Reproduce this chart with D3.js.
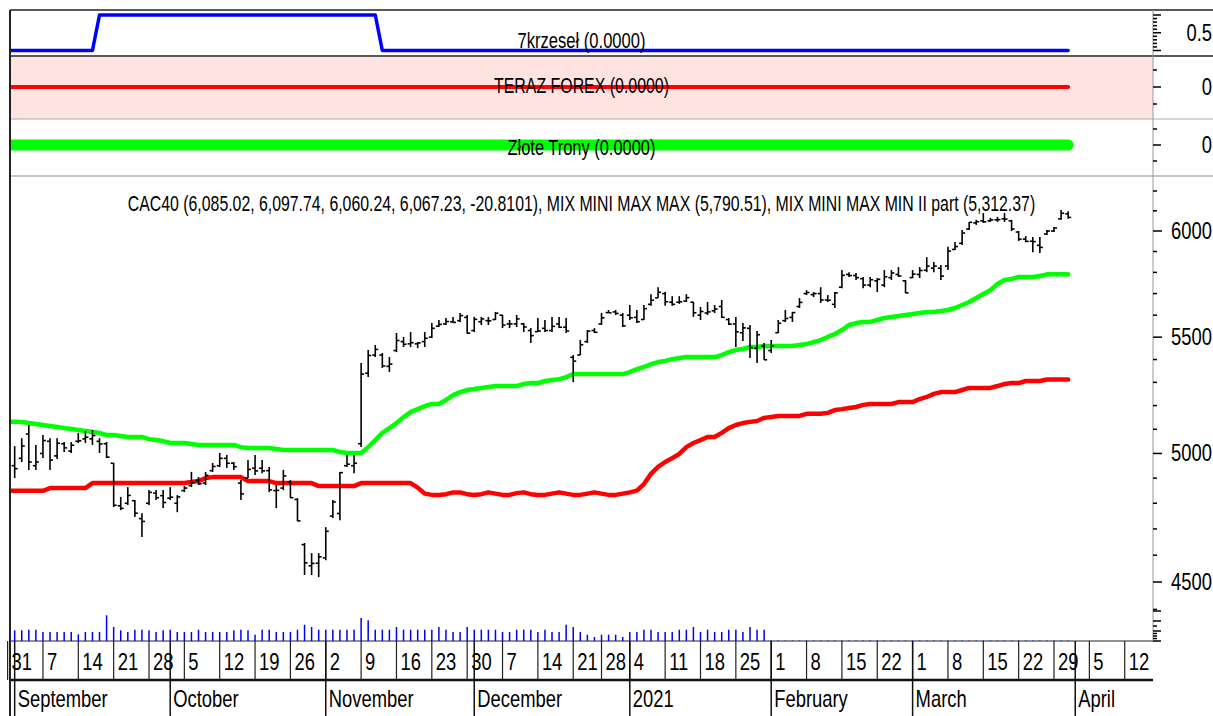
<!DOCTYPE html>
<html>
<head>
<meta charset="utf-8">
<script src="https://cdnjs.cloudflare.com/ajax/libs/d3/7.8.5/d3.min.js"></script>
<style>
	body { margin: 0; background: #fff; overflow: hidden; }
	svg { display: block; }
	text { font-family: "Liberation Sans", Arial, sans-serif; fill: #000; }
</style>
</head>
<body>
<svg id="chart" width="1213" height="716"></svg>
<script>
// trading calendar (future weekdays are shown on the axis too)
const firstDay = '2020-08-31';
const lastDay = '2021-04-16';
const holidays = ['2020-12-25', '2021-01-01'];

// CAC40 daily bars, 2020-08-31 .. 2021-03-31
const opens = [
	5010, 4950, 4980, 5080, 4950, 5000, 5050, 4990, 5040, 5010,
	5050, 5060, 5060, 5050, 5040, 4960, 4790, 4800, 4810, 4740,
	4800, 4840, 4830, 4820, 4800, 4850, 4870, 4890, 4880, 4930,
	4950, 4980, 4960, 4880, 4900, 4940, 4940, 4930, 4850, 4860,
	4885, 4815, 4640, 4560, 4570, 4590, 4750, 4760, 4950, 4950,
	5040, 5340, 5420, 5420, 5370, 5440, 5480, 5470, 5470, 5480,
	5500, 5550, 5560, 5570, 5575, 5590, 5530, 5570, 5575, 5580,
	5600, 5560, 5560, 5560, 5530, 5525, 5540, 5530, 5560, 5545,
	5410, 5420, 5480, 5530, 5560, 5612, 5615, 5600, 5600, 5590,
	5580, 5650, 5680, 5700, 5660, 5660, 5665, 5660, 5600, 5610,
	5620, 5640, 5580, 5560, 5520, 5540, 5450, 5460, 5440, 5520,
	5575, 5590, 5640, 5700, 5695, 5700, 5670, 5650, 5730, 5790,
	5785, 5770, 5740, 5760, 5740, 5775, 5790, 5760, 5775, 5790,
	5810, 5820, 5820, 5830, 5910, 5940, 6010, 6040, 6050, 6050,
	6055, 6060, 6050, 5995, 5960, 5950, 5930, 5985, 6000, 6060,
	6085.02
];
const highs = [
	5020, 5030, 5063, 5118, 5035, 5076, 5063, 5063, 5047, 5047,
	5085, 5093, 5097, 5063, 5047, 4961, 4825, 4864, 4813, 4761,
	4852, 4852, 4852, 4864, 4832, 4868, 4925, 4904, 4925, 4961,
	5002, 4994, 4965, 4892, 4973, 4994, 4973, 4945, 4872, 4933,
	4892, 4820, 4646, 4608, 4608, 4707, 4813, 4925, 4994, 4994,
	5385, 5442, 5465, 5429, 5411, 5519, 5501, 5523, 5478, 5523,
	5564, 5578, 5587, 5592, 5610, 5601, 5592, 5592, 5592, 5615,
	5601, 5578, 5601, 5564, 5541, 5587, 5578, 5592, 5592, 5587,
	5420, 5487, 5532, 5541, 5610, 5624, 5624, 5610, 5647, 5624,
	5647, 5697, 5730, 5707, 5688, 5688, 5697, 5661, 5638, 5661,
	5647, 5670, 5587, 5592, 5564, 5555, 5528, 5474, 5487, 5578,
	5624, 5615, 5679, 5716, 5707, 5730, 5693, 5707, 5811, 5801,
	5797, 5778, 5778, 5773, 5811, 5811, 5825, 5764, 5811, 5825,
	5873, 5849, 5835, 5923, 5946, 6005, 6045, 6055, 6089, 6065,
	6070, 6089, 6055, 6000, 5975, 5970, 5970, 6005, 6020, 6104,
	6097.74
];
const lows = [
	4930, 4900, 4965, 4933, 4933, 4981, 4933, 4977, 5006, 5002,
	5043, 5043, 5035, 5002, 4981, 4785, 4773, 4793, 4746, 4669,
	4793, 4813, 4781, 4813, 4765, 4844, 4864, 4872, 4872, 4925,
	4945, 4941, 4933, 4813, 4900, 4912, 4920, 4844, 4781, 4852,
	4820, 4730, 4526, 4526, 4518, 4581, 4742, 4734, 4945, 4920,
	5026, 5323, 5411, 5363, 5345, 5433, 5456, 5456, 5451, 5456,
	5496, 5546, 5555, 5564, 5569, 5515, 5523, 5555, 5555, 5578,
	5541, 5541, 5546, 5523, 5474, 5523, 5523, 5523, 5541, 5519,
	5301, 5420, 5474, 5519, 5555, 5610, 5601, 5546, 5578, 5564,
	5578, 5643, 5679, 5643, 5643, 5652, 5661, 5592, 5578, 5601,
	5610, 5587, 5555, 5456, 5483, 5407, 5385, 5398, 5429, 5519,
	5569, 5569, 5633, 5693, 5684, 5656, 5661, 5633, 5725, 5778,
	5764, 5725, 5730, 5707, 5730, 5764, 5778, 5702, 5773, 5773,
	5801, 5801, 5764, 5811, 5907, 5931, 6005, 6030, 6040, 6045,
	6045, 6045, 6000, 5951, 5946, 5897, 5893, 5980, 5995, 6055,
	6060.24
];
const closes = [
	4947, 4938, 5031, 4965, 4965, 5053, 4973, 5042, 5023, 5034,
	5052, 5067, 5074, 5039, 4985, 4792, 4780, 4831, 4761, 4729,
	4843, 4822, 4803, 4824, 4825, 4860, 4882, 4877, 4911, 4947,
	4980, 4960, 4946, 4837, 4935, 4929, 4929, 4853, 4851, 4909,
	4822, 4731, 4571, 4569, 4594, 4691, 4805, 4922, 4956, 4960,
	5336, 5418, 5445, 5372, 5380, 5485, 5468, 5475, 5474, 5495,
	5540, 5558, 5571, 5567, 5598, 5518, 5581, 5583, 5574, 5609,
	5555, 5560, 5583, 5546, 5507, 5528, 5530, 5549, 5545, 5528,
	5393, 5466, 5527, 5522, 5588, 5611, 5608, 5551, 5588, 5570,
	5630, 5669, 5706, 5662, 5650, 5662, 5681, 5611, 5617, 5615,
	5628, 5590, 5559, 5524, 5542, 5453, 5511, 5399, 5461, 5563,
	5585, 5612, 5659, 5705, 5700, 5670, 5669, 5703, 5786, 5785,
	5775, 5740, 5765, 5767, 5779, 5797, 5783, 5703, 5792, 5809,
	5830, 5830, 5782, 5902, 5924, 5990, 6043, 6046, 6045, 6055,
	6056, 6059, 6010, 5960, 5949, 5948, 5920, 6000, 6015, 6088,
	6067.23
];
const volumes = [
	107, 107, 107, 113, 113, 90, 90, 90, 90, 90,
	67, 90, 90, 90, 257, 140, 107, 90, 113, 113,
	107, 90, 107, 113, 90, 90, 90, 113, 90, 90,
	90, 90, 107, 113, 107, 63, 113, 113, 90, 90,
	90, 113, 163, 140, 113, 113, 113, 113, 113, 113,
	230, 207, 113, 113, 113, 140, 113, 113, 113, 113,
	113, 140, 113, 90, 90, 140, 113, 113, 113, 113,
	90, 90, 113, 113, 113, 90, 113, 90, 90, 163,
	140, 90, 63, 40, 63, 63, 63, 40, 90, 90,
	113, 113, 90, 90, 90, 113, 113, 140, 90, 113,
	90, 90, 113, 113, 90, 140, 113, 113, 5, 5,
	5, 5, 5, 5, 5, 5, 5, 5, 5, 5,
	5, 5, 5, 5, 5, 5, 5, 5, 5, 5,
	5, 5, 5, 5, 5, 5, 5, 5, 5, 5,
	5, 5, 5, 5, 5, 5, 5, 5, 5, 5,
	5
];
// MIX MINI MAX MAX
const mixMax = [
	5132, 5132, 5131, 5126, 5122, 5118, 5114, 5110, 5105, 5101,
	5097, 5093, 5089, 5085, 5076, 5076, 5072, 5068, 5068, 5068,
	5059, 5055, 5051, 5043, 5043, 5043, 5039, 5035, 5035, 5035,
	5035, 5035, 5035, 5026, 5022, 5022, 5022, 5022, 5018, 5014,
	5014, 5014, 5014, 5014, 5014, 5014, 5014, 5006, 5002, 5002,
	5002, 5026, 5055, 5085, 5105, 5126, 5151, 5172, 5185, 5198,
	5207, 5207, 5224, 5245, 5258, 5267, 5271, 5276, 5280, 5284,
	5284, 5284, 5284, 5293, 5297, 5297, 5306, 5310, 5314, 5323,
	5336, 5336, 5336, 5336, 5336, 5336, 5336, 5336, 5345, 5358,
	5367, 5380, 5389, 5394, 5402, 5407, 5411, 5411, 5411, 5411,
	5411, 5420, 5433, 5442, 5447, 5456, 5456, 5460, 5460, 5460,
	5460, 5460, 5465, 5469, 5478, 5487, 5501, 5514, 5532, 5555,
	5564, 5569, 5569, 5578, 5587, 5592, 5596, 5601, 5605, 5610,
	5615, 5615, 5619, 5624, 5633, 5647, 5661, 5679, 5698, 5716,
	5745, 5764, 5769, 5778, 5778, 5778, 5783, 5790.51, 5790.51, 5790.51,
	5790.51
];
// MIX MINI MAX MIN II part
const mixMin = [
	4849, 4849, 4849, 4849, 4849, 4849, 4860, 4860, 4860, 4860,
	4860, 4860, 4880, 4880, 4880, 4880, 4880, 4880, 4880, 4880,
	4880, 4880, 4880, 4880, 4880, 4880, 4884, 4888, 4900, 4904,
	4904, 4904, 4904, 4904, 4888, 4888, 4888, 4888, 4880, 4880,
	4880, 4880, 4880, 4880, 4868, 4868, 4868, 4868, 4868, 4868,
	4880, 4880, 4880, 4880, 4880, 4880, 4880, 4880, 4862, 4838,
	4833, 4833, 4836, 4843, 4843, 4836, 4833, 4836, 4843, 4838,
	4833, 4833, 4840, 4843, 4836, 4833, 4833, 4838, 4843, 4838,
	4833, 4833, 4838, 4843, 4838, 4833, 4833, 4838, 4843, 4850,
	4876, 4917, 4945, 4965, 4981, 4998, 5026, 5043, 5055, 5068,
	5068, 5085, 5105, 5118, 5126, 5131, 5135, 5148, 5152, 5156,
	5156, 5156, 5156, 5165, 5165, 5165, 5169, 5181, 5185, 5190,
	5194, 5203, 5207, 5207, 5207, 5207, 5215, 5215, 5215, 5228,
	5237, 5250, 5258, 5258, 5258, 5267, 5276, 5276, 5276, 5276,
	5284, 5293, 5297, 5297, 5306, 5306, 5306, 5312.37, 5312.37, 5312.37,
	5312.37
];
// upper indicator panes
const krzesel = [
	0, 0, 0, 0, 0, 0, 0, 0, 0, 0, 0, 0, 0, 1, 1, 1, 1, 1, 1, 1,
	1, 1, 1, 1, 1, 1, 1, 1, 1, 1, 1, 1, 1, 1, 1, 1, 1, 1, 1, 1,
	1, 1, 1, 1, 1, 1, 1, 1, 1, 1, 1, 1, 1, 0, 0, 0, 0, 0, 0, 0,
	0, 0, 0, 0, 0, 0, 0, 0, 0, 0, 0, 0, 0, 0, 0, 0, 0, 0, 0, 0,
	0, 0, 0, 0, 0, 0, 0, 0, 0, 0, 0, 0, 0, 0, 0, 0, 0, 0, 0, 0,
	0, 0, 0, 0, 0, 0, 0, 0, 0, 0, 0, 0, 0, 0, 0, 0, 0, 0, 0, 0,
	0, 0, 0, 0, 0, 0, 0, 0, 0, 0, 0, 0, 0, 0, 0, 0, 0, 0, 0, 0,
	0, 0, 0, 0, 0, 0, 0, 0, 0, 0, 0
];
const terazForex = [
	0, 0, 0, 0, 0, 0, 0, 0, 0, 0, 0, 0, 0, 0, 0, 0, 0, 0, 0, 0,
	0, 0, 0, 0, 0, 0, 0, 0, 0, 0, 0, 0, 0, 0, 0, 0, 0, 0, 0, 0,
	0, 0, 0, 0, 0, 0, 0, 0, 0, 0, 0, 0, 0, 0, 0, 0, 0, 0, 0, 0,
	0, 0, 0, 0, 0, 0, 0, 0, 0, 0, 0, 0, 0, 0, 0, 0, 0, 0, 0, 0,
	0, 0, 0, 0, 0, 0, 0, 0, 0, 0, 0, 0, 0, 0, 0, 0, 0, 0, 0, 0,
	0, 0, 0, 0, 0, 0, 0, 0, 0, 0, 0, 0, 0, 0, 0, 0, 0, 0, 0, 0,
	0, 0, 0, 0, 0, 0, 0, 0, 0, 0, 0, 0, 0, 0, 0, 0, 0, 0, 0, 0,
	0, 0, 0, 0, 0, 0, 0, 0, 0, 0, 0
];
const zloteTrony = [
	0, 0, 0, 0, 0, 0, 0, 0, 0, 0, 0, 0, 0, 0, 0, 0, 0, 0, 0, 0,
	0, 0, 0, 0, 0, 0, 0, 0, 0, 0, 0, 0, 0, 0, 0, 0, 0, 0, 0, 0,
	0, 0, 0, 0, 0, 0, 0, 0, 0, 0, 0, 0, 0, 0, 0, 0, 0, 0, 0, 0,
	0, 0, 0, 0, 0, 0, 0, 0, 0, 0, 0, 0, 0, 0, 0, 0, 0, 0, 0, 0,
	0, 0, 0, 0, 0, 0, 0, 0, 0, 0, 0, 0, 0, 0, 0, 0, 0, 0, 0, 0,
	0, 0, 0, 0, 0, 0, 0, 0, 0, 0, 0, 0, 0, 0, 0, 0, 0, 0, 0, 0,
	0, 0, 0, 0, 0, 0, 0, 0, 0, 0, 0, 0, 0, 0, 0, 0, 0, 0, 0, 0,
	0, 0, 0, 0, 0, 0, 0, 0, 0, 0, 0
];

const priceLabels = [4500, 5000, 5500, 6000];
const priceMinor = [4400, 4600, 4700, 4800, 4900, 5100, 5200, 5300, 5400, 5600, 5700, 5800, 5900, 6100, 6200];
const volumeTicks = [0, 25, 50, 75, 100, 150, 200, 300];

const mainTitle = 'CAC40 (6,085.02, 6,097.74, 6,060.24, 6,067.23, -20.8101), MIX MINI MAX MAX (5,790.51), MIX MINI MAX MIN II part (5,312.37)';
const paneTitles = ['7krzeseł (0.0000)', 'TERAZ FOREX (0.0000)', 'Złote Trony (0.0000)'];

const Chart = {
	left: 10,
	axisX: 1153,
	labelX: 1212,
	top: 10,
	pane1Bottom: 56,
	pane2Bottom: 119,
	pane3Bottom: 176,
	mainBottom: 641,
	dayRowBottom: 680,
	height: 716,
	squeeze: 0.8,

	draw: function() {
		const self = this;
		self.svg = d3.select('#chart');
		self.days = self.tradingDays();
		self.x = d3.scaleLinear()
			.domain([0, self.days.length - 1])
			.range([7.6, self.axisX]);
		self.y = d3.scaleLog()
			.domain([4500, 6000])
			.range([582, 231]);
		self.yVol = d3.scaleLinear()
			.domain([0, 300])
			.range([self.mainBottom, self.mainBottom - 30]);

		self.svg.append('defs').append('clipPath')
			.attr('id', 'plot-clip')
			.append('rect')
			.attr('x', self.left + 1)
			.attr('y', self.top + 1)
			.attr('width', self.axisX - self.left - 1)
			.attr('height', self.mainBottom - self.top - 1);

		self.drawFrames();
		self.drawPanes();
		self.drawVolume();
		self.drawMainLines();
		self.drawBars();
		self.drawPriceAxis();
		self.drawDateAxis();
	},

	tradingDays: function() {
		let parse = d3.timeParse('%Y-%m-%d');
		let format = d3.timeFormat('%Y-%m-%d');
		let end = parse(lastDay);
		let days = [];

		for (let d = parse(firstDay); d <= end; d = d3.timeDay.offset(d, 1)) {
			let weekday = d.getDay();
			if (weekday == 0 || weekday == 6 || holidays.includes(format(d)))
				continue;
			days.push(d);
		}

		return days;
	},

	squeezedText: function(parent, x, y, str, size, anchor) {
		return parent.append('text')
			.attr('transform', 'translate(' + x + ',' + y + ') scale(' + this.squeeze + ',1)')
			.attr('text-anchor', anchor)
			.style('font-size', size + 'px')
			.text(str);
	},

	// centred text squeezed horizontally to a given width
	fittedText: function(parent, x, y, str, size, width) {
		let text = parent.append('text')
			.attr('text-anchor', 'middle')
			.style('font-size', size + 'px')
			.text(str);
		let natural = text.node().getComputedTextLength();
		let scale = natural > 0 ? width / natural : 1;

		text.attr('transform', 'translate(' + x + ',' + y + ') scale(' + scale + ',1)');
		return text;
	},

	hline: function(y, x1, x2, color, width) {
		this.svg.append('line')
			.attr('x1', x1).attr('x2', x2)
			.attr('y1', y).attr('y2', y)
			.style('stroke', color)
			.style('stroke-width', width);
	},

	drawFrames: function() {
		const self = this;

		self.svg.append('rect')
			.attr('x', self.left)
			.attr('y', self.pane1Bottom + 1)
			.attr('width', self.axisX - self.left)
			.attr('height', self.pane2Bottom - self.pane1Bottom - 1)
			.style('fill', '#ffe3e0');

		self.hline(self.top, self.left, 1213, '#222', 1.5);
		self.hline(self.pane1Bottom, self.left, 1213, '#222', 1.5);
		self.hline(self.pane2Bottom, self.left, 1213, '#aaa', 1);
		self.hline(self.pane3Bottom, self.left, 1213, '#888', 1);
		self.hline(self.mainBottom, self.left, self.axisX, '#222', 1);
		self.hline(self.dayRowBottom, self.left, self.axisX, '#111', 2.5);

		self.svg.append('line')
			.attr('x1', self.left).attr('x2', self.left)
			.attr('y1', self.top).attr('y2', self.height)
			.style('stroke', '#222')
			.style('stroke-width', 2);

		self.svg.append('line')
			.attr('x1', self.axisX).attr('x2', self.axisX)
			.attr('y1', self.top).attr('y2', self.mainBottom)
			.style('stroke', '#999')
			.style('stroke-width', 1);
	},

	drawPanes: function() {
		const self = this;
		let mid = (self.left + self.axisX) / 2;
		let panes = [
			{ values: krzesel, color: '#0000ff', width: 3.5, domain: [0, 1], range: [50.5, 15], ticks: d3.range(0, 1.01, 0.1), major: [0, 0.5, 1], label: '0.5', labelValue: 0.5, titleY: 48, titleLength: 128 },
			{ values: terazForex, color: '#ff0000', width: 4, domain: [-1, 1], range: [104, 70], ticks: [-1, 0, 1], major: [0], label: '0', labelValue: 0, titleY: 93, titleLength: 175 },
			{ values: zloteTrony, color: '#00ff00', width: 11, domain: [-1, 1], range: [161, 129], ticks: [-1, 0, 1], major: [0], label: '0', labelValue: 0, titleY: 155, titleLength: 148 }
		];

		for (let p = 0; p < panes.length; p++) {
			let pane = panes[p];
			let y = d3.scaleLinear().domain(pane.domain).range(pane.range);
			let line = d3.line()
				.x(function(d, i) { return self.x(i); })
				.y(function(d) { return y(d); });

			self.svg.append('path')
				.datum(pane.values)
				.attr('clip-path', 'url(#plot-clip)')
				.attr('d', line)
				.style('fill', 'none')
				.style('stroke', pane.color)
				.style('stroke-width', pane.width)
				.style('stroke-linecap', 'round')
				.style('stroke-linejoin', 'round');

			self.fittedText(self.svg, mid, pane.titleY, paneTitles[p], 22, pane.titleLength);

			for (let t = 0; t < pane.ticks.length; t++) {
				let v = pane.ticks[t];
				let isMajor = pane.major.some(function(m) { return Math.abs(m - v) < 1e-6; });
				self.svg.append('line')
					.attr('x1', self.axisX).attr('x2', self.axisX + (isMajor ? 8 : 4))
					.attr('y1', y(v)).attr('y2', y(v))
					.style('stroke', '#000')
					.style('stroke-width', 1.5);
			}

			self.squeezedText(self.svg, self.labelX, y(pane.labelValue) + 8, pane.label, 23, 'end');
		}
	},

	drawVolume: function() {
		const self = this;

		self.svg.append('g')
			.attr('clip-path', 'url(#plot-clip)')
			.selectAll('rect')
			.data(volumes)
			.join('rect')
			.attr('x', function(d, i) { return self.x(i) - 0.75; })
			.attr('width', 1.5)
			.attr('y', function(d) { return self.yVol(d); })
			.attr('height', function(d) { return self.mainBottom - self.yVol(d); })
			.style('fill', '#0000ff');
	},

	drawMainLines: function() {
		const self = this;
		let line = d3.line()
			.x(function(d, i) { return self.x(i); })
			.y(function(d) { return self.y(d); });
		let series = [
			{ values: mixMax, color: '#00ff00' },
			{ values: mixMin, color: '#ff0000' }
		];

		for (let s = 0; s < series.length; s++)
			self.svg.append('path')
				.datum(series[s].values)
				.attr('clip-path', 'url(#plot-clip)')
				.attr('d', line)
				.style('fill', 'none')
				.style('stroke', series[s].color)
				.style('stroke-width', 4.5)
				.style('stroke-linecap', 'round')
				.style('stroke-linejoin', 'round');
	},

	drawBars: function() {
		const self = this;
		let bars = self.svg.append('g')
			.attr('clip-path', 'url(#plot-clip)')
			.selectAll('g')
			.data(closes)
			.join('g');

		bars.append('line')
			.attr('x1', function(d, i) { return self.x(i); })
			.attr('x2', function(d, i) { return self.x(i); })
			.attr('y1', function(d, i) { return self.y(highs[i]); })
			.attr('y2', function(d, i) { return self.y(lows[i]); });

		bars.append('line')
			.attr('x1', function(d, i) { return self.x(i) - 3; })
			.attr('x2', function(d, i) { return self.x(i); })
			.attr('y1', function(d, i) { return self.y(opens[i]); })
			.attr('y2', function(d, i) { return self.y(opens[i]); });

		bars.append('line')
			.attr('x1', function(d, i) { return self.x(i); })
			.attr('x2', function(d, i) { return self.x(i) + 3; })
			.attr('y1', function(d) { return self.y(d); })
			.attr('y2', function(d) { return self.y(d); });

		bars.selectAll('line')
			.style('stroke', '#000')
			.style('stroke-width', 1.6);

		self.fittedText(self.svg, (self.left + self.axisX) / 2, 211, mainTitle, 22, 908);
	},

	drawPriceAxis: function() {
		const self = this;
		let axis = self.svg.append('g');

		axis.selectAll('line.minor')
			.data(priceMinor)
			.join('line')
			.attr('class', 'minor')
			.attr('x1', self.axisX).attr('x2', self.axisX + 4)
			.attr('y1', function(d) { return self.y(d); })
			.attr('y2', function(d) { return self.y(d); });

		axis.selectAll('line.major')
			.data(priceLabels)
			.join('line')
			.attr('class', 'major')
			.attr('x1', self.axisX).attr('x2', self.axisX + 9)
			.attr('y1', function(d) { return self.y(d); })
			.attr('y2', function(d) { return self.y(d); });

		axis.selectAll('line.vol')
			.data(volumeTicks)
			.join('line')
			.attr('class', 'vol')
			.attr('x1', self.axisX).attr('x2', function(d) { return self.axisX + (d % 100 == 0 ? 8 : 4); })
			.attr('y1', function(d) { return self.yVol(d); })
			.attr('y2', function(d) { return self.yVol(d); });

		axis.selectAll('line')
			.style('stroke', '#000')
			.style('stroke-width', 1.5);

		for (let i = 0; i < priceLabels.length; i++)
			self.squeezedText(axis, self.labelX, self.y(priceLabels[i]) + 8, priceLabels[i], 23, 'end');
	},

	drawDateAxis: function() {
		const self = this;
		let axis = self.svg.append('g');
		let monthName = d3.timeFormat('%B');

		for (let i = 0; i < self.days.length; i++) {
			let day = self.days[i];
			let prev = self.days[i - 1];
			let newWeek = !prev || +d3.timeMonday.floor(day) != +d3.timeMonday.floor(prev);
			let newMonth = prev && day.getMonth() != prev.getMonth();
			let xi = self.x(i);

			if (newWeek) {
				axis.append('line')
					.attr('x1', xi).attr('x2', xi)
					.attr('y1', self.mainBottom).attr('y2', self.dayRowBottom)
					.style('stroke', '#222')
					.style('stroke-width', 1.2);
				self.squeezedText(axis, xi + 4, 670, day.getDate(), 23, 'start');
			}

			if (newMonth) {
				axis.append('line')
					.attr('x1', xi).attr('x2', xi)
					.attr('y1', self.mainBottom).attr('y2', self.height)
					.style('stroke', '#111')
					.style('stroke-width', 1.5);
				let label = day.getMonth() == 0 ? day.getFullYear() : monthName(day);
				self.squeezedText(axis, xi + 3, 707, label, 23, 'start');
			}
		}
	}
};

Chart.draw();
</script>
</body>
</html>
